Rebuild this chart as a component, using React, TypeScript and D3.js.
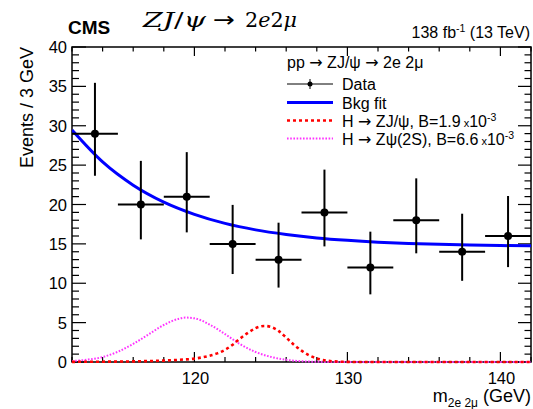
import React from 'react';
import * as d3 from 'd3';

// ---- data ----
const binCenters = [113.5, 116.5, 119.5, 122.5, 125.5, 128.5, 131.5, 134.5, 137.5, 140.5];
const binHalfWidth = 1.5;
const counts = [29, 20, 21, 15, 13, 19, 12, 18, 14, 16];
const errLow = [23.65, 15.57, 16.46, 11.17, 9.45, 14.68, 8.59, 13.8, 10.31, 12.05];
const errHigh = [35.45, 25.54, 26.65, 19.95, 17.69, 24.43, 16.55, 23.32, 18.83, 21.08];

const bkgX = [112, 114, 116, 118, 120, 122, 124, 126, 128, 130, 132, 134, 136, 138, 140, 142];
const bkgY = [29.45, 25.4, 22.45, 20.3, 18.75, 17.6, 16.78, 16.2, 15.76, 15.45, 15.22, 15.06, 14.94, 14.85, 14.79, 14.75];

const zjpsiX = [112, 114, 116, 117, 118, 119, 120, 121, 121.5, 122, 122.5, 123, 123.5, 124, 124.6, 125, 125.5, 126, 126.5, 127, 127.5, 128, 128.5, 129, 130, 131, 142];
const zjpsiY = [0.02, 0.04, 0.08, 0.12, 0.18, 0.28, 0.43, 0.8, 1.1, 1.55, 2.2, 3.0, 3.7, 4.3, 4.57, 4.45, 3.95, 3.1, 2.2, 1.45, 0.85, 0.45, 0.22, 0.1, 0.02, 0, 0];

const zpsi2sX = [112, 113, 114, 115, 116, 117, 118, 119, 119.4, 120, 121, 122, 123, 124, 125, 126, 127, 128, 129, 142];
const zpsi2sY = [0.12, 0.3, 0.63, 1.3, 2.3, 3.5, 4.7, 5.5, 5.64, 5.55, 4.75, 3.55, 2.25, 1.27, 0.65, 0.28, 0.1, 0.03, 0, 0];

const xDomain = [112, 142];
const yDomain = [0, 40];
const xMajorTicks = [120, 130, 140];
const yMajorTicks = [0, 5, 10, 15, 20, 25, 30, 35, 40];

// ---- layout ----
const W = 533, H = 409;
const L = 72, R = 531, T = 47, B = 362;
const SANS = "'Liberation Sans', Arial, Helvetica, sans-serif";
const SERIF = "'DejaVu Serif', 'Liberation Serif', serif";
const ARROW = "'DejaVu Sans', sans-serif";

const Arrow = () => <tspan fontFamily={ARROW}>→</tspan>;

export default function App() {
  const x = d3.scaleLinear().domain(xDomain).range([L, R]);
  const y = d3.scaleLinear().domain(yDomain).range([B, T]);

  const xMinor = d3.range(xDomain[0], xDomain[1] + 0.001, 2).filter(v => !xMajorTicks.includes(v));
  const yMinor = d3.range(0, 40.001, 1).filter(v => v % 5 !== 0);

  const lineGen = d3.line<[number, number]>().x(d => x(d[0])).y(d => y(d[1])).curve(d3.curveMonotoneX);
  const bkgPath = lineGen(bkgX.map((v, i) => [v, bkgY[i]] as [number, number])) || '';
  const zjPath = lineGen(zjpsiX.map((v, i) => [v, zjpsiY[i]] as [number, number])) || '';
  const z2sPath = lineGen(zpsi2sX.map((v, i) => [v, zpsi2sY[i]] as [number, number])) || '';

  const legX0 = 287, legX1 = 333, legText = 342;
  const legRows = [84, 102.5, 120.5, 138.5];

  return (
    <svg width={W} height={H} style={{ position: 'absolute', left: 0, top: 0, background: '#fff' }}
      fontFamily={SANS}>
      <defs>
        <clipPath id="plotclip">
          <rect x={L} y={T} width={R - L} height={B - T + 2} />
        </clipPath>
      </defs>
      <rect x={0} y={0} width={W} height={H} fill="#fff" />

      {/* ticks */}
      <g stroke="#000" strokeWidth={1.2}>
        {xMajorTicks.map(v => (
          <g key={'xM' + v}>
            <line x1={x(v)} x2={x(v)} y1={B} y2={B - 10} />
            <line x1={x(v)} x2={x(v)} y1={T} y2={T + 9} />
          </g>
        ))}
        {xMinor.map(v => (
          <g key={'xm' + v}>
            <line x1={x(v)} x2={x(v)} y1={B} y2={B - 5} />
            <line x1={x(v)} x2={x(v)} y1={T} y2={T + 4.5} />
          </g>
        ))}
        {yMajorTicks.map(v => (
          <g key={'yM' + v}>
            <line x1={L} x2={L + 14} y1={y(v)} y2={y(v)} />
            <line x1={R} x2={R - 13} y1={y(v)} y2={y(v)} />
          </g>
        ))}
        {yMinor.map(v => (
          <g key={'ym' + v}>
            <line x1={L} x2={L + 7} y1={y(v)} y2={y(v)} />
            <line x1={R} x2={R - 6.5} y1={y(v)} y2={y(v)} />
          </g>
        ))}
      </g>
      <rect x={L} y={T} width={R - L} height={B - T} fill="none" stroke="#000" strokeWidth={1.5} />

      {/* tick labels */}
      <g fontSize={16.5} fill="#000">
        {yMajorTicks.map(v => (
          <text key={'yl' + v} x={67} y={y(v) + 6} textAnchor="end">{v}</text>
        ))}
        {xMajorTicks.map(v => (
          <text key={'xl' + v} x={x(v) + 1} y={384} textAnchor="middle">{v}</text>
        ))}
      </g>

      {/* axis titles */}
      <text transform="translate(33,47) rotate(-90)" textAnchor="end" fontSize={18}>Events / 3 GeV</text>
      <text x={531} y={402} textAnchor="end" fontSize={18}>
        m<tspan fontSize={12} dy={5}>2e 2μ</tspan><tspan dy={-5}> (GeV)</tspan>
      </text>

      {/* curves */}
      <g clipPath="url(#plotclip)" fill="none">
        <path d={z2sPath} stroke="#ff33ff" strokeWidth={2} strokeDasharray="1.6,1.6" />
        <path d={zjPath} stroke="#ff0000" strokeWidth={2.6} strokeDasharray="3,3" />
        <path d={bkgPath} stroke="#0000ff" strokeWidth={3} />
      </g>

      {/* data */}
      <g stroke="#000" strokeWidth={2}>
        {binCenters.map((c, i) => (
          <g key={'d' + i}>
            <line x1={x(c - binHalfWidth)} x2={x(c + binHalfWidth)} y1={y(counts[i])} y2={y(counts[i])} />
            <line x1={x(c)} x2={x(c)} y1={y(errLow[i])} y2={y(errHigh[i])} />
            <circle cx={x(c)} cy={y(counts[i])} r={4} fill="#000" stroke="none" />
          </g>
        ))}
      </g>

      {/* header texts */}
      <text x={68} y={34} fontSize={19} fontWeight="bold">CMS</text>
      <g fontFamily={SERIF} fontSize={21}>
        <text x={143} y={27} textLength={63} lengthAdjust="spacingAndGlyphs">
          <tspan fontStyle="italic">ZJ</tspan>/<tspan fontStyle="italic">ψ</tspan>
        </text>
        <text x={213} y={27} fontFamily={ARROW} textLength={22} lengthAdjust="spacingAndGlyphs">→</text>
        <text x={245} y={27} textLength={52} lengthAdjust="spacingAndGlyphs">
          2<tspan fontStyle="italic">e</tspan>2<tspan fontStyle="italic">μ</tspan>
        </text>
      </g>
      <text x={530} y={38} textAnchor="end" fontSize={16}>
        138 fb<tspan fontSize={10.5} dy={-6}>-1</tspan><tspan dy={6}> (13 TeV)</tspan>
      </text>

      {/* legend */}
      <g fontSize={16}>
        <text x={287} y={68}>pp <Arrow /> ZJ/ψ <Arrow /> 2e 2μ</text>
        <line x1={legX0} x2={legX1} y1={legRows[0]} y2={legRows[0]} stroke="#000" strokeWidth={1} />
        <line x1={(legX0 + legX1) / 2} x2={(legX0 + legX1) / 2} y1={legRows[0] - 5} y2={legRows[0] + 5} stroke="#000" strokeWidth={1} />
        <circle cx={(legX0 + legX1) / 2} cy={legRows[0]} r={2.5} fill="#000" />
        <text x={legText} y={legRows[0] + 6}>Data</text>
        <line x1={legX0} x2={legX1} y1={legRows[1]} y2={legRows[1]} stroke="#0000ff" strokeWidth={3} />
        <text x={legText} y={legRows[1] + 6}>Bkg fit</text>
        <line x1={legX0} x2={legX1} y1={legRows[2]} y2={legRows[2]} stroke="#ff0000" strokeWidth={2.6} strokeDasharray="3,3" />
        <text x={legText} y={legRows[2] + 6}>H <Arrow /> ZJ/ψ, B=1.9<tspan fontSize={11}> x</tspan>10<tspan fontSize={10.5} dy={-6}>-3</tspan></text>
        <line x1={legX0} x2={legX1} y1={legRows[3]} y2={legRows[3]} stroke="#ff33ff" strokeWidth={2} strokeDasharray="1.6,1.6" />
        <text x={legText} y={legRows[3] + 6}>H <Arrow /> Zψ(2S), B=6.6<tspan fontSize={11}> x</tspan>10<tspan fontSize={10.5} dy={-6}>-3</tspan></text>
      </g>
    </svg>
  );
}
